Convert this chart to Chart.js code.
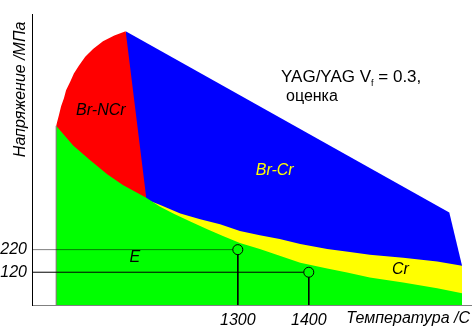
<!DOCTYPE html>
<html>
<head>
<meta charset="utf-8">
<script src="https://cdn.jsdelivr.net/npm/chart.js@4.4.1/dist/chart.umd.min.js"></script>
<style>
  html, body { margin: 0; padding: 0; background: #fff; }
  #chart { display: block; }
</style>
</head>
<body>
<canvas id="chart" width="472" height="326"></canvas>
<script>
// Карта механизмов разрушения YAG/YAG: температура (C) - напряжение (МПа)
const X_MIN = 1010, X_MAX = 1630;
const Y_MIN = -25, Y_MAX = 1260;

// граница E (верх зеленой области)
const eTemp   = [1044, 1068, 1092, 1116, 1138, 1171, 1190, 1209, 1233, 1257, 1279, 1303, 1331, 1359, 1388, 1426, 1454, 1486, 1533, 1581, 1616];
const eStress = [ 768,  681,  615,  554,  506,  450,  411,  380,  345,  310,  280,  249,  223,  193,  162,  136,  119,   97,   75,   49,   27];

// граница Cr / Br-Cr (верх желтой полосы)
const crTemp   = [1172, 1190, 1219, 1247, 1275, 1303, 1331, 1359, 1388, 1426, 1458, 1486, 1533, 1581, 1616];
const crStress = [ 441,  419,  380,  354,  332,  302,  284,  267,  245,  223,  210,  197,  184,  167,  149];

// верхняя граница Br-Cr
const brCrTemp   = [1142, 1598, 1616];
const brCrStress = [1186,  384,  149];

// область Br-NCr: дуга слева и правая граница
const brNcrTemp   = [1044, 1048, 1051, 1055, 1058, 1064, 1069, 1076, 1085, 1096, 1110, 1126, 1142, 1171];
const brNcrStress = [ 768,  816,  855,  890,  925,  964,  999, 1034, 1073, 1108, 1142, 1168, 1186,  450];

// отмеченные точки и подписи осей
const markTemp   = [1300, 1400];
const markStress = [220, 120];
const xTicks = [1300, 1400];
const yTicks = [220, 120];

const FONT = "'Liberation Sans', Arial, sans-serif";

function toPoints(xs, ys) {
  return xs.map((t, i) => ({ x: t, y: ys[i] }));
}

function area(xs, ys, color) {
  return {
    data: toPoints(xs, ys),
    backgroundColor: color,
    borderWidth: 0,
    pointRadius: 0,
    fill: 'start'
  };
}

function guide(i, firstColor) {
  return {
    data: [
      { x: X_MIN, y: markStress[i] },
      { x: markTemp[i], y: markStress[i] },
      { x: markTemp[i], y: Y_MIN }
    ],
    borderColor: '#000',
    borderWidth: 1,
    segment: { borderColor: c => (c.p0DataIndex === 0 ? firstColor : '#000') },
    pointRadius: [0, 5, 0],
    pointBackgroundColor: '#00ff00',
    pointBorderColor: '#000',
    pointBorderWidth: 1,
    fill: false
  };
}

// подписи областей и аннотация
const textPlugin = {
  id: 'mapText',
  afterDatasetsDraw(chart) {
    const { ctx, chartArea, scales: { x, y } } = chart;
    ctx.save();
    ctx.textAlign = 'center';
    ctx.textBaseline = 'middle';
    ctx.font = 'italic 16px ' + FONT;
    ctx.fillStyle = '#000';
    ctx.fillText('Br-NCr', x.getPixelForValue(1107), y.getPixelForValue(837));
    ctx.fillText('E', x.getPixelForValue(1155), y.getPixelForValue(184));
    ctx.fillText('Cr', x.getPixelForValue(1529), y.getPixelForValue(132));
    ctx.fillStyle = '#ffff00';
    ctx.fillText('Br-Cr', x.getPixelForValue(1352), y.getPixelForValue(572));

    // YAG/YAG Vf = 0.3, оценка
    ctx.fillStyle = '#000';
    ctx.textAlign = 'left';
    ctx.textBaseline = 'alphabetic';
    let px = 281, py = 82;
    ctx.font = '17px ' + FONT;
    const head = 'YAG/YAG V';
    ctx.fillText(head, px, py);
    px += ctx.measureText(head).width;
    ctx.font = '9px ' + FONT;
    ctx.fillText('f', px, py + 4);
    px += ctx.measureText('f').width;
    ctx.font = '17px ' + FONT;
    ctx.fillText(' = 0.3,', px, py);
    ctx.font = '16px ' + FONT;
    ctx.fillText('оценка', 286, 101);

    // название оси X
    ctx.font = 'italic 16px ' + FONT;
    ctx.textAlign = 'right';
    ctx.fillText('Температура /C', chartArea.right - 2, 323);

    // название оси Y
    ctx.translate(25, chartArea.top + 7);
    ctx.rotate(-Math.PI / 2);
    ctx.textAlign = 'right';
    ctx.fillText('Напряжение /МПа', 0, 0);
    ctx.restore();
  }
};

// серая кромка слева от зеленой области
const eEdge = {
  data: [{ x: eTemp[0], y: Y_MIN }, { x: eTemp[0], y: eStress[0] }],
  borderColor: '#808080',
  borderWidth: 1,
  pointRadius: 0,
  fill: false
};

new Chart(document.getElementById('chart'), {
  type: 'line',
  data: {
    datasets: [
      guide(0, 'rgba(0,0,0,0.5)'),
      guide(1, '#000'),
      eEdge,
      area(eTemp, eStress, '#00ff00'),
      area(crTemp, crStress, '#ffff00'),
      area(brNcrTemp, brNcrStress, '#ff0000'),
      area(brCrTemp, brCrStress, '#0000ff')
    ]
  },
  options: {
    responsive: false,
    animation: false,
    parsing: false,
    layout: { padding: { top: 10, left: 0, right: 0, bottom: 0 } },
    elements: { line: { tension: 0 } },
    plugins: { legend: { display: false }, tooltip: { enabled: false } },
    scales: {
      x: {
        type: 'linear',
        min: X_MIN,
        max: X_MAX,
        grid: { display: false, drawTicks: false },
        border: { display: true, color: '#808080', width: 1 },
        afterBuildTicks: s => { s.ticks = xTicks.map(v => ({ value: v })); },
        afterFit: s => { s.height = 21; },
        ticks: {
          padding: 6,
          autoSkip: false,
          maxRotation: 0,
          color: '#000',
          callback: v => String(v),
          font: { family: FONT, size: 16, style: 'italic' }
        }
      },
      y: {
        type: 'linear',
        min: Y_MIN,
        max: Y_MAX,
        grid: { display: false, drawTicks: false },
        border: { display: true, color: '#000', width: 1 },
        afterBuildTicks: s => { s.ticks = yTicks.map(v => ({ value: v })); },
        afterFit: s => { s.width = 32; },
        ticks: {
          padding: 5,
          autoSkip: false,
          color: '#000',
          callback: v => String(v),
          font: { family: FONT, size: 16, style: 'italic' }
        }
      }
    }
  },
  plugins: [textPlugin]
});
</script>
</body>
</html>
